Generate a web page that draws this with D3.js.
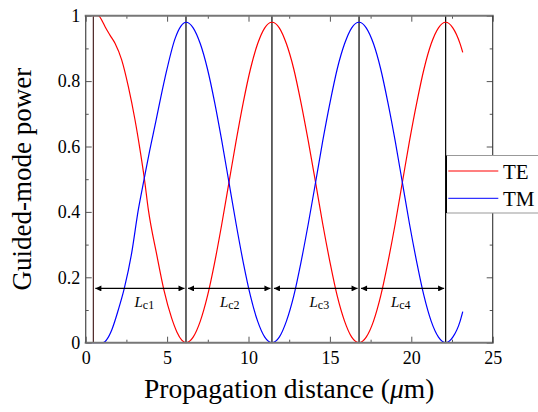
<!DOCTYPE html>
<html><head><meta charset="utf-8">
<script src="https://cdn.jsdelivr.net/npm/d3@7"></script>
<style>
html,body{margin:0;padding:0;background:#fff;}
svg{display:block;}
text{font-family:"Liberation Serif","Times New Roman",serif;}
</style></head>
<body><svg id="c" width="538" height="412"></svg>
<script>
// ---- data ----
const xMajorTicks = [0, 5, 10, 15, 20, 25];
const xMinorTicks = [2.5, 7.5, 12.5, 17.5, 22.5];
const yMajorTicks = [0, 0.2, 0.4, 0.6, 0.8, 1];
const yMinorTicks = [0.1, 0.3, 0.5, 0.7, 0.9];
const yTickLabels = ["0", "0.2", "0.4", "0.6", "0.8", "1"];
const seriesNames = ["TE", "TM"];

const teX = [0.47, 0.77, 1.0, 1.19, 1.5, 1.8, 2.21, 2.62, 3.03, 3.34, 3.6, 3.85, 4.36, 4.81, 5.28, 5.6, 5.9, 6.16,
  6.6, 7.04, 7.48, 7.92, 8.36, 8.8, 9.24, 9.68, 10.12, 10.56, 11.0, 11.44,
  11.89, 12.33, 12.78, 13.22, 13.67, 14.12, 14.56, 15.01, 15.45, 15.9, 16.34, 16.79,
  17.23, 17.68, 18.12, 18.56, 19.01, 19.45, 19.89, 20.34, 20.78, 21.22, 21.67, 22.11,
  22.55, 23.0, 23.16];
const teY = [1.0, 1.0, 0.985, 0.966, 0.94, 0.916, 0.865, 0.783, 0.681, 0.589, 0.503, 0.406, 0.27, 0.16, 0.075, 0.033, 0.008, 0,
  0.017, 0.066, 0.143, 0.245, 0.363, 0.49, 0.617, 0.735, 0.837, 0.914, 0.963, 0.98,
  0.963, 0.914, 0.837, 0.735, 0.617, 0.49, 0.363, 0.245, 0.143, 0.066, 0.017, 0,
  0.017, 0.066, 0.143, 0.245, 0.363, 0.49, 0.617, 0.735, 0.837, 0.914, 0.963, 0.98,
  0.963, 0.914, 0.888];

const tmX = [0, 1.08, 1.3, 1.6, 2.0, 2.37, 2.82, 3.23, 3.6, 3.9, 4.26, 4.87, 5.49, 5.85, 6.16,
  6.6, 7.04, 7.48, 7.92, 8.36, 8.8, 9.24, 9.68, 10.12, 10.56, 11.0, 11.44,
  11.89, 12.33, 12.78, 13.22, 13.67, 14.12, 14.56, 15.01, 15.45, 15.9, 16.34, 16.79,
  17.23, 17.68, 18.12, 18.56, 19.01, 19.45, 19.89, 20.34, 20.78, 21.22, 21.67, 22.11,
  22.55, 23.0, 23.16];
const tmY = [0, 0, 0.01, 0.039, 0.1, 0.166, 0.273, 0.406, 0.503, 0.58, 0.665, 0.81, 0.93, 0.968, 0.98,
  0.963, 0.914, 0.837, 0.735, 0.617, 0.49, 0.363, 0.245, 0.143, 0.066, 0.017, 0,
  0.017, 0.066, 0.143, 0.245, 0.363, 0.49, 0.617, 0.735, 0.837, 0.914, 0.963, 0.98,
  0.963, 0.914, 0.837, 0.735, 0.617, 0.49, 0.363, 0.245, 0.143, 0.066, 0.017, 0,
  0.017, 0.066, 0.095];

const boundaries = [0.47, 6.16, 11.44, 16.79, 22.11];
const lcLabels = ["c1", "c2", "c3", "c4"];
const lcLabelX = [3.6, 8.85, 14.35, 19.35];
const arrowLevel = 0.166;
const lcTextLevel = 0.11;

// ---- layout ----
const svg = d3.select("#c");
const L = 85.7, T = 15.7, W = 407, H = 327;
const x = d3.scaleLinear().domain([0, 25]).range([L, L + W]);
const y = d3.scaleLinear().domain([0, 1]).range([T + H, T]);

const defs = svg.append("defs");
defs.append("clipPath").attr("id", "clip").append("rect")
  .attr("x", L).attr("y", T - 2).attr("width", W).attr("height", H + 3);
defs.append("marker").attr("id", "ah").attr("viewBox", "0 0 10 10")
  .attr("refX", 10).attr("refY", 5).attr("markerWidth", 7).attr("markerHeight", 6)
  .attr("markerUnits", "userSpaceOnUse").attr("orient", "auto-start-reverse")
  .append("path").attr("d", "M0,0L10,5L0,10Z").attr("fill", "#000");

// vertical boundary lines
svg.append("g").selectAll("line").data(boundaries).join("line")
  .attr("x1", d => x(d)).attr("x2", d => x(d))
  .attr("y1", T).attr("y2", T + H)
  .attr("stroke", (d, i) => i === 0 ? "#4a2323" : "#000")
  .attr("stroke-width", 1.2);

// curves
const line = d3.line().curve(d3.curveMonotoneX);
const plot = svg.append("g").attr("clip-path", "url(#clip)");
plot.append("path")
  .attr("d", line(teX.map((v, i) => [x(v), y(teY[i])])))
  .attr("fill", "none").attr("stroke", "#ff0000").attr("stroke-width", 1.2);
plot.append("path")
  .attr("d", line(tmX.map((v, i) => [x(v), y(tmY[i])])))
  .attr("fill", "none").attr("stroke", "#0000ff").attr("stroke-width", 1.2);

// Lc arrows
const segs = d3.range(boundaries.length - 1).map(i => [boundaries[i], boundaries[i + 1]]);
svg.append("g").selectAll("line").data(segs).join("line")
  .attr("x1", d => x(d[0]) + 2).attr("x2", d => x(d[1]) - 1.5)
  .attr("y1", y(arrowLevel)).attr("y2", y(arrowLevel))
  .attr("stroke", "#000").attr("stroke-width", 1.2)
  .attr("marker-start", "url(#ah)").attr("marker-end", "url(#ah)");

const lt = svg.append("g").selectAll("text").data(lcLabels).join("text")
  .attr("x", (d, i) => x(lcLabelX[i])).attr("y", y(lcTextLevel))
  .attr("text-anchor", "middle").attr("font-size", 15);
lt.append("tspan").attr("font-style", "italic").text("L");
lt.append("tspan").attr("font-size", 12).attr("dy", 2.5).text(d => d);

// axes
function styleAxis(g, col, w) {
  g.select(".domain").remove();
  g.selectAll(".tick line").attr("stroke", col).attr("stroke-width", w);
  g.selectAll("text").attr("font-size", 18).attr("fill", "#000")
    .attr("font-family", "Liberation Serif, serif");
}
const gb = svg.append("g").attr("transform", `translate(0,${T + H})`)
  .call(d3.axisBottom(x).tickValues(xMajorTicks).tickSize(-6).tickPadding(8.5).tickFormat(d3.format("d")));
styleAxis(gb, "#555", 1);
const gbm = svg.append("g").attr("transform", `translate(0,${T + H})`)
  .call(d3.axisBottom(x).tickValues(xMinorTicks).tickSize(-3).tickFormat(""));
styleAxis(gbm, "#555", 1);
const gt = svg.append("g").attr("transform", `translate(0,${T})`)
  .call(d3.axisTop(x).tickValues(xMajorTicks).tickSize(-6).tickFormat(""));
styleAxis(gt, "#555", 1);
const gtm = svg.append("g").attr("transform", `translate(0,${T})`)
  .call(d3.axisTop(x).tickValues(xMinorTicks).tickSize(-3).tickFormat(""));
styleAxis(gtm, "#555", 1);

const gl = svg.append("g").attr("transform", `translate(${L},0)`)
  .call(d3.axisLeft(y).tickValues(yMajorTicks).tickSize(-6).tickPadding(5.5)
    .tickFormat((d, i) => yTickLabels[i]));
styleAxis(gl, "#555", 1);
const glm = svg.append("g").attr("transform", `translate(${L},0)`)
  .call(d3.axisLeft(y).tickValues(yMinorTicks).tickSize(-3).tickFormat(""));
styleAxis(glm, "#555", 1);
const gr = svg.append("g").attr("transform", `translate(${L + W},0)`)
  .call(d3.axisRight(y).tickValues(yMajorTicks).tickSize(-6).tickFormat(""));
styleAxis(gr, "#555", 1);
const grm = svg.append("g").attr("transform", `translate(${L + W},0)`)
  .call(d3.axisRight(y).tickValues(yMinorTicks).tickSize(-3).tickFormat(""));
styleAxis(grm, "#555", 1);

// frame
svg.append("line").attr("x1", L - 1).attr("x2", L + W + 1).attr("y1", T).attr("y2", T)
  .attr("stroke", "#777").attr("stroke-width", 2);
svg.append("line").attr("x1", L - 1).attr("x2", L + W + 1).attr("y1", T + H).attr("y2", T + H)
  .attr("stroke", "#777").attr("stroke-width", 2);
svg.append("line").attr("x1", L).attr("x2", L).attr("y1", T).attr("y2", T + H)
  .attr("stroke", "#555").attr("stroke-width", 1.3);
svg.append("line").attr("x1", L + W).attr("x2", L + W).attr("y1", T).attr("y2", T + H)
  .attr("stroke", "#333").attr("stroke-width", 1.1);

// axis titles
const xt = svg.append("text").attr("x", L + W / 2).attr("y", 398)
  .attr("text-anchor", "middle").attr("font-size", 27.5);
xt.append("tspan").text("Propagation distance (");
xt.append("tspan").attr("font-style", "italic").text("μ");
xt.append("tspan").text("m)");
svg.append("text").attr("transform", `translate(31,${T + H / 2}) rotate(-90)`)
  .attr("text-anchor", "middle").attr("font-size", 27).text("Guided-mode power");

// legend
const lg = svg.append("g");
lg.append("rect").attr("x", 446.5).attr("y", 155.5).attr("width", 100).attr("height", 57.5)
  .attr("fill", "#fff").attr("stroke", "none");
lg.append("line").attr("x1", 446.5).attr("x2", 540).attr("y1", 155.5).attr("y2", 155.5).attr("stroke", "#999");
lg.append("line").attr("x1", 446.5).attr("x2", 540).attr("y1", 213).attr("y2", 213).attr("stroke", "#999");
lg.append("line").attr("x1", 446.5).attr("x2", 446.5).attr("y1", 155.5).attr("y2", 213).attr("stroke", "#000");
const legendColors = ["#ff0000", "#3333ff"];
const legendY = [171, 198.3];
seriesNames.forEach((n, i) => {
  lg.append("line").attr("x1", 448.3).attr("x2", 498.3).attr("y1", legendY[i]).attr("y2", legendY[i])
    .attr("stroke", legendColors[i]).attr("stroke-width", 1.2);
  lg.append("text").attr("x", 503).attr("y", legendY[i] + 7.5).attr("font-size", 21).text(n);
});
</script></body></html>
